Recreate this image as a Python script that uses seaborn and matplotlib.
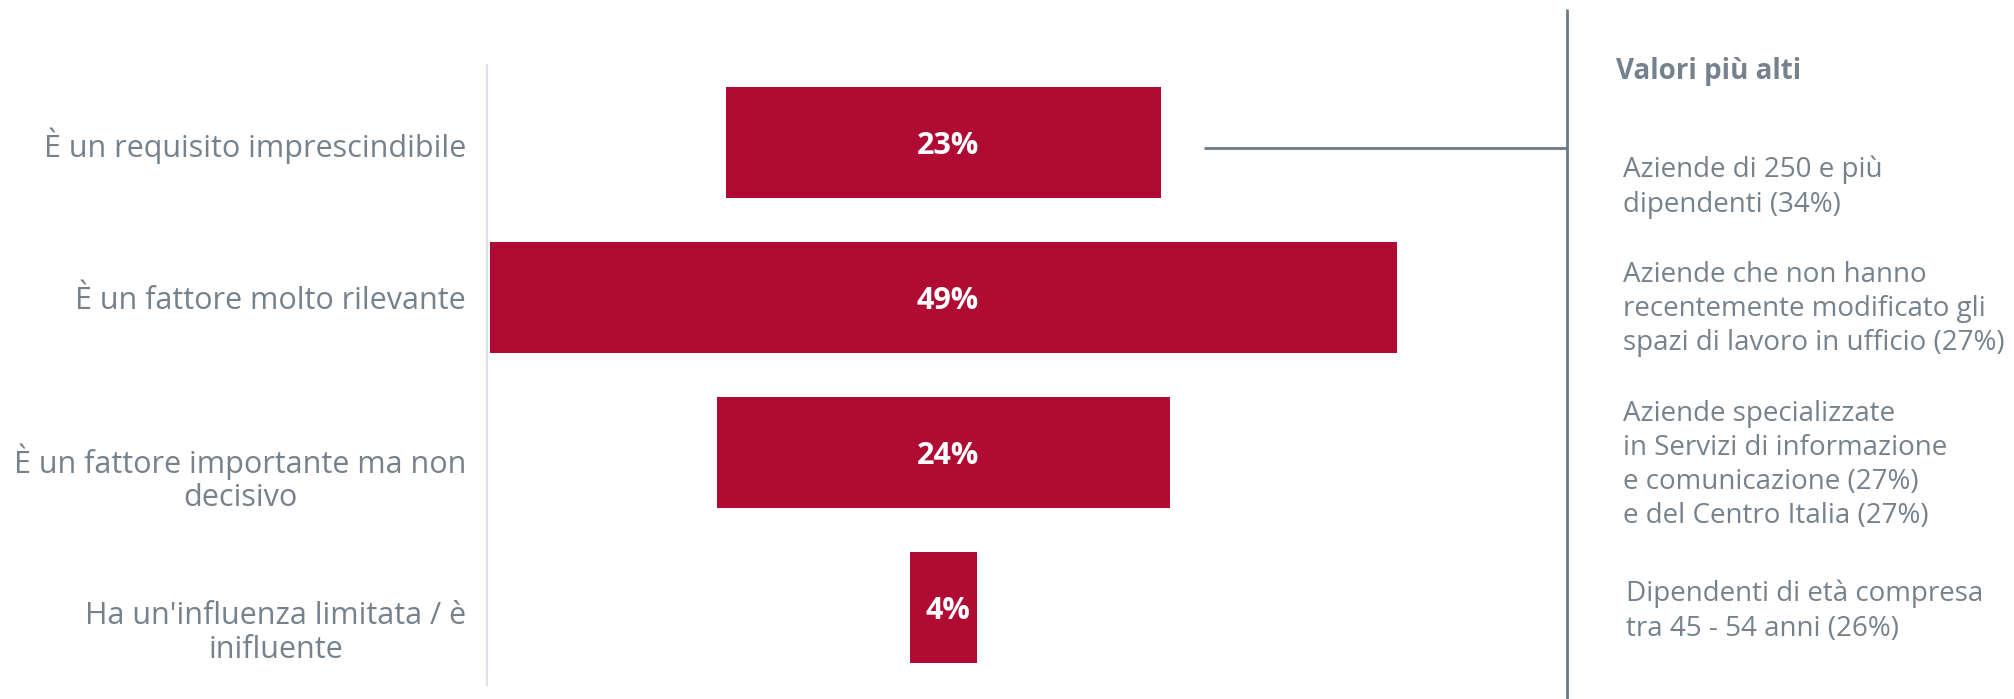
import matplotlib
matplotlib.use("Agg")
import matplotlib.pyplot as plt
import seaborn as sns
import pandas as pd
from matplotlib.lines import Line2D
from matplotlib.transforms import ScaledTranslation

categories = [
    "È un requisito imprescindibile",
    "È un fattore molto rilevante",
    "È un fattore importante ma non\ndecisivo",
    "Ha un'influenza limitata / è\ninifluente",
]
values = [23.5, 49.0, 24.5, 3.6]
value_labels = ["23%", "49%", "24%", "4%"]

panel_title = "Valori più alti"
panel_items = [
    "Aziende di 250 e più\ndipendenti (34%)",
    "Aziende che non hanno\nrecentemente modificato gli\nspazi di lavoro in ufficio (27%)",
    "Aziende specializzate\nin Servizi di informazione\ne comunicazione (27%)\ne del Centro Italia (27%)",
    "Dipendenti di età compresa\ntra 45 - 54 anni (26%)",
]

BAR = "#B00B33"
GREY = "#75828D"
LINE = "#6E7B85"

sns.set_theme(style="white")
plt.rcParams["font.family"] = ["Open Sans", "DejaVu Sans"]

W, H = 2014, 699
fig = plt.figure(figsize=(W / 100, H / 100), dpi=100)
ax = fig.add_axes([487 / W, 1 - 685 / H, (1567 - 487) / W, (685 - 65) / H])

df = pd.DataFrame({"cat": categories, "val": values})
sns.barplot(data=df, y="cat", x="val", orient="h", color=BAR, width=0.72,
            saturation=1, ax=ax)

center = max(values) / 2
for patch, v, lab in zip(ax.patches, values, value_labels):
    w = patch.get_width()
    patch.set_x(center - w / 2)
    patch.set_edgecolor("none")
    ax.text(center + 0.25, patch.get_y() + patch.get_height() / 2 + 0.02, lab,
            ha="center", va="center", color="white", fontsize=22,
            fontweight="bold")

ax.set_xlim(-0.15, 58.2)
ax.set_ylim(3.5, -0.5)
ax.set_xlabel("")
ax.set_ylabel("")
ax.set_xticks([])
for s in ["top", "right", "bottom"]:
    ax.spines[s].set_visible(False)
ax.spines["left"].set_color("#DCE2E6")
ax.spines["left"].set_linewidth(1.5)
ax.tick_params(axis="y", length=0, pad=15, labelsize=22, labelcolor=GREY)
for t in ax.get_yticklabels():
    t.set_multialignment("center")
    t.set_linespacing(1.15)
    if "\n" in t.get_text():
        t.set_transform(t.get_transform() +
                        ScaledTranslation(0, -0.205, fig.dpi_scale_trans))

# connector + divider
fig.add_artist(Line2D([1205 / W, 1567 / W], [1 - 148 / H, 1 - 148 / H],
                      color=LINE, lw=2))
fig.add_artist(Line2D([1567 / W, 1567 / W], [1 - 10 / H, 0],
                      color=LINE, lw=2))

fig.text(1616 / W, 1 - 72 / H, panel_title, ha="left", va="center",
         fontsize=20, fontweight="bold", color=GREY)
item_pos = [(1623, 156), (1623, 261), (1623, 400), (1626, 580)]
for (x, y), txt in zip(item_pos, panel_items):
    fig.text(x / W, 1 - y / H, txt, ha="left", va="top", fontsize=20,
             color=GREY, linespacing=1.29)

fig.savefig("out.png", dpi=100, facecolor="white")
